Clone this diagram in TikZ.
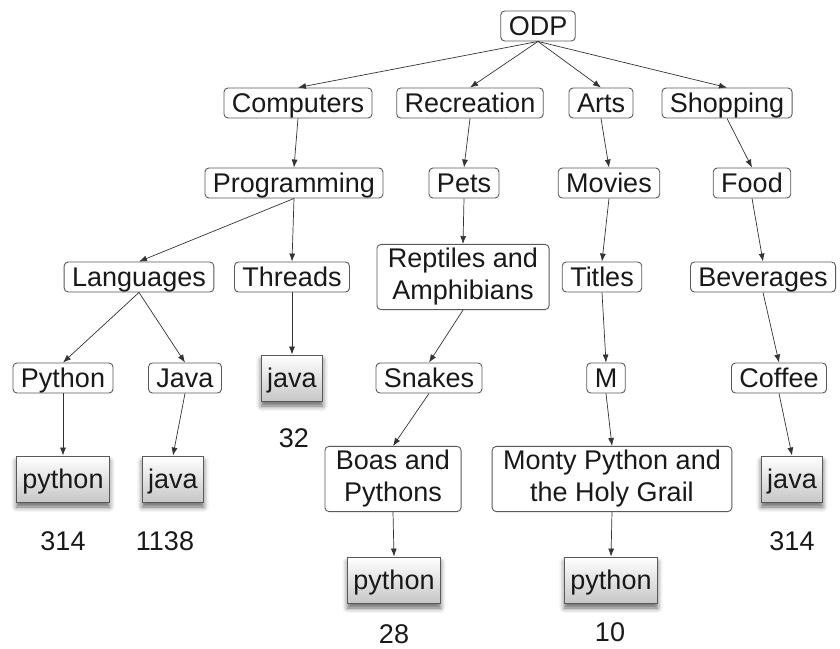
\documentclass[tikz,border=0pt]{standalone}
\usepackage{fontspec}
\setmainfont{Liberation Sans}
\usetikzlibrary{arrows.meta,shadows.blur}
\begin{document}
\begin{tikzpicture}[x=1pt,y=-1pt,
  font=\fontsize{27}{32}\selectfont,
  box/.style={draw=black!65, line width=0.9pt, rounded corners=4pt, fill=white,
    inner xsep=11pt, inner ysep=4pt, align=center, text=black!90},
  cat/.style={box, inner xsep=8pt, inner ysep=0pt, minimum height=30pt, text height=22pt, text depth=3pt},
  twoline/.style={box},
  leaf/.style={draw=black!65, line width=0.9pt, top color=white, bottom color=black!22,
    inner xsep=6pt, inner ysep=0pt, minimum height=46pt, text height=22pt, text depth=3pt, text=black!90,
    blur shadow={shadow xshift=0pt, shadow yshift=-5pt, shadow blur radius=5pt, shadow opacity=60}},
  count/.style={text=black!90},
  link/.style={draw=black!80, line width=0.7pt, -{Latex[length=8pt,width=6pt]}}
]
\useasboundingbox (0,0) rectangle (840,648);
% category tree
\node[cat] (odp) at (538,26) {ODP};
\node[cat] (comp) at (298,103) {Computers};
\node[cat] (rec) at (470,103) {Recreation};
\node[cat] (arts) at (601,103) {Arts};
\node[cat] (shop) at (727,103) {Shopping};
\node[cat] (prog) at (294,183) {Programming};
\node[cat] (pets) at (464,183) {Pets};
\node[cat] (movies) at (609,183) {Movies};
\node[cat] (food) at (752,183) {Food};
\node[cat] (lang) at (139,277) {Languages};
\node[cat] (threads) at (292,277) {Threads};
\node[twoline] (rept) at (463,277) {Reptiles and\\Amphibians};
\node[cat] (titles) at (602,277) {Titles};
\node[cat] (bev) at (763,277) {Beverages};
\node[cat] (py) at (63,378) {Python};
\node[cat] (jv) at (185,378) {Java};
\node[cat] (snakes) at (429,378) {Snakes};
\node[cat] (m) at (606,378) {M};
\node[cat] (coffee) at (779,378) {Coffee};
\node[twoline] (boas) at (393,479) {Boas and\\Pythons};
\node[twoline] (monty) at (612,479) {Monty Python and\\the Holy Grail};
% documents
\node[leaf] (l1) at (63,479) {python};
\node[leaf] (l2) at (173,479) {java};
\node[leaf] (l3) at (292,378) {java};
\node[leaf] (l4) at (394,580) {python};
\node[leaf] (l5) at (611,580) {python};
\node[leaf] (l6) at (792,479) {java};
% counts
\node[count] (c1) at (63,541) {314};
\node[count] (c2) at (165,541) {1138};
\node[count] (c3) at (294,438) {32};
\node[count] (c4) at (394,634) {28};
\node[count] (c5) at (610,632) {10};
\node[count] (c6) at (792,541) {314};
% links
\foreach \a/\b in {odp/comp,odp/rec,odp/arts,odp/shop,comp/prog,rec/pets,arts/movies,shop/food,
  prog/lang,prog/threads,pets/rept,movies/titles,food/bev,lang/py,lang/jv,threads/l3,
  rept/snakes,titles/m,bev/coffee,py/l1,jv/l2,snakes/boas,m/monty,coffee/l6,boas/l4,monty/l5}
  \draw[link] (\a.south) -- (\b.north);
\end{tikzpicture}
\end{document}
